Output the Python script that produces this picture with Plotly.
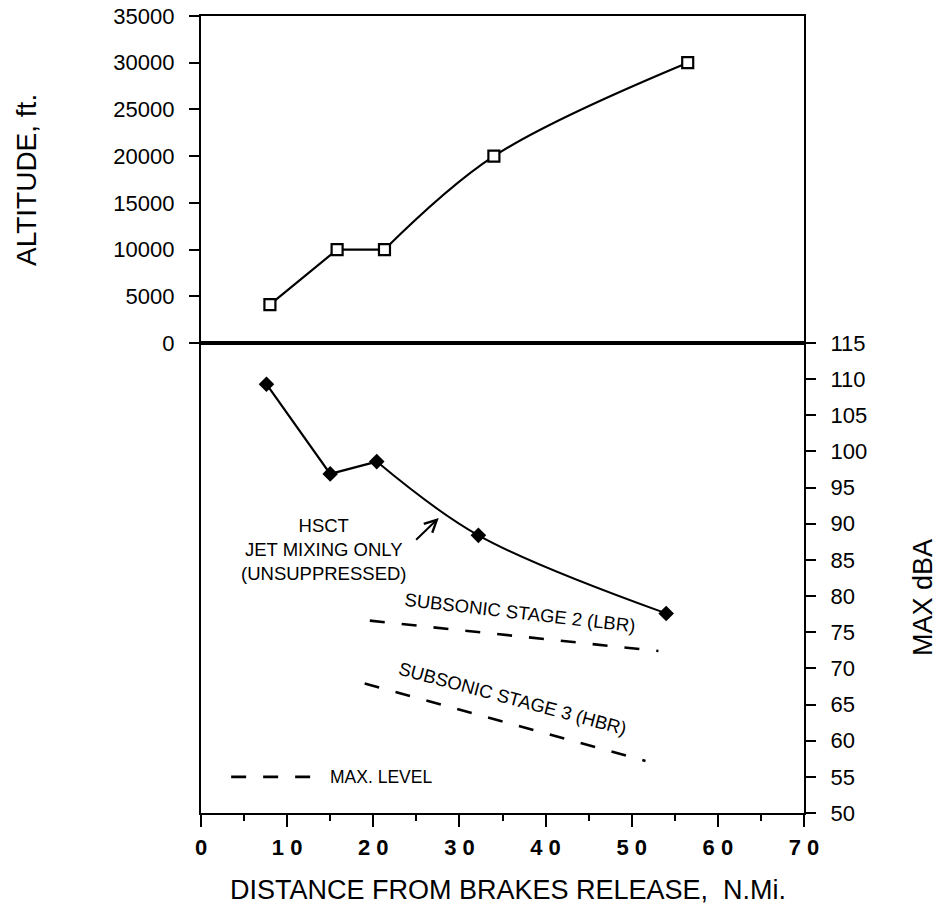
import plotly.graph_objects as go

# ---- data ----
dist_alt = [8.0, 15.8, 21.3, 34.0, 56.5]
altitude = [4100, 10000, 10000, 20000, 30000]

dist_hsct = [7.6, 15.0, 20.4, 32.2, 54.0]
dba_hsct = [109.3, 96.9, 98.6, 88.4, 77.6]

stage2_x = [19.6, 53.1]
stage2_y = [76.6, 72.4]
stage3_x = [19.0, 51.6]
stage3_y = [67.9, 57.2]

legend_x = [3.5, 13.5]
legend_y = [55.0, 55.0]

alt_ticks = [0, 5000, 10000, 15000, 20000, 25000, 30000, 35000]
dba_ticks = list(range(50, 116, 5))
dist_ticks = [0, 10, 20, 30, 40, 50, 60, 70]
dist_labels = ["0", "1 0", "2 0", "3 0", "4 0", "5 0", "6 0", "7 0"]

FONT = "Liberation Sans, Arial, sans-serif"
BLACK = "black"
DASH = "15px,17px"

# plot box sits at x 201..804, y 16..813 in the picture (page body margin removed)
OFF = 0
PL, PR, PT, PB = 201, 804, 16, 813
W, H = 939, 917

fig = go.Figure()

# top panel: altitude
fig.add_trace(go.Scatter(x=dist_alt[:3], y=altitude[:3], mode="lines",
                         line=dict(color=BLACK, width=2.2), xaxis="x", yaxis="y",
                         showlegend=False, hoverinfo="skip"))
fig.add_trace(go.Scatter(x=dist_alt[2:], y=altitude[2:], mode="lines",
                         line=dict(color=BLACK, width=2.2, shape="spline", smoothing=1.0),
                         xaxis="x", yaxis="y", showlegend=False, hoverinfo="skip"))
fig.add_trace(go.Scatter(x=dist_alt, y=altitude, mode="markers",
                         marker=dict(symbol="square", size=11, color="white",
                                     line=dict(color=BLACK, width=2.2)),
                         xaxis="x", yaxis="y", showlegend=False))

# bottom panel: noise
fig.add_trace(go.Scatter(x=dist_hsct[:3], y=dba_hsct[:3], mode="lines",
                         line=dict(color=BLACK, width=2.2), xaxis="x2", yaxis="y2",
                         showlegend=False, hoverinfo="skip"))
fig.add_trace(go.Scatter(x=dist_hsct[2:], y=dba_hsct[2:], mode="lines",
                         line=dict(color=BLACK, width=2.0, shape="spline", smoothing=1.0),
                         xaxis="x2", yaxis="y2", showlegend=False, hoverinfo="skip"))
fig.add_trace(go.Scatter(x=dist_hsct, y=dba_hsct, mode="markers",
                         marker=dict(symbol="diamond", size=12, color=BLACK),
                         xaxis="x2", yaxis="y2", showlegend=False))

for xs, ys in [(stage2_x, stage2_y), (stage3_x, stage3_y), (legend_x, legend_y)]:
    fig.add_trace(go.Scatter(x=xs, y=ys, mode="lines",
                             line=dict(color=BLACK, width=2.6, dash=DASH),
                             xaxis="x2", yaxis="y2", showlegend=False, hoverinfo="skip"))

split = (PB - 343) / (PB - PT)

axis_common = dict(showgrid=False, zeroline=False, showline=True, linecolor=BLACK,
                   linewidth=2.2, tickcolor=BLACK, tickwidth=2.2, automargin=False,
                   ticklabeloverflow="allow",
                   tickfont=dict(family=FONT, size=22, color=BLACK))

fig.update_layout(
    width=W, height=H,
    margin=dict(l=PL - OFF, r=W + OFF - PR, t=PT - OFF, b=H + OFF - PB, autoexpand=False),
    paper_bgcolor="white", plot_bgcolor="white",
    font=dict(family=FONT, color=BLACK),
    xaxis=dict(axis_common, domain=[0, 1], range=[0, 70], anchor="y",
               showticklabels=False, ticks="", mirror=True),
    yaxis=dict(axis_common, domain=[split, 1], range=[0, 35000], anchor="x",
               tickvals=alt_ticks, tickformat="d", ticks="outside", ticklen=10,
               ticklabelstandoff=10, mirror=True),
    xaxis2=dict(axis_common, domain=[0, 1], range=[0, 70], anchor="y2",
                tickvals=dist_ticks, ticktext=dist_labels, ticks="outside", ticklen=12,
                tickfont=dict(family=FONT, size=22, color=BLACK, weight="bold"),
                ticklabelstandoff=1, mirror=True,
                minor=dict(dtick=5, tick0=0, ticks="outside", ticklen=6,
                           tickcolor=BLACK, tickwidth=2, showgrid=False)),
    yaxis2=dict(axis_common, domain=[0, split], range=[50, 115], anchor="x2",
                side="right", tickvals=dba_ticks, ticks="outside", ticklen=10,
                ticklabelstandoff=10, mirror=True),
)

ann_font = dict(family=FONT, size=18.5, color=BLACK)
title_font = dict(family=FONT, size=27, color=BLACK)


def px_x(p):
    return (p - PL) / (PR - PL)


def px_y(p):
    return (PB - p) / (PB - PT)


fig.add_annotation(text="HSCT<br>JET MIXING ONLY<br>(UNSUPPRESSED)", x=14.3, y=86.4,
                   xref="x2", yref="y2", showarrow=False, font=ann_font, align="center",
                   xanchor="center", yanchor="middle")
fig.add_annotation(text="", x=27.6, y=90.8, ax=24.8, ay=87.6, xref="x2", yref="y2",
                   axref="x2", ayref="y2", showarrow=True, arrowhead=5, arrowsize=1.2,
                   arrowwidth=2, arrowcolor=BLACK)
fig.add_annotation(text="SUBSONIC STAGE 2 (LBR)", x=37.0, y=77.7, xref="x2", yref="y2",
                   showarrow=False, font=ann_font, textangle=6.5,
                   xanchor="center", yanchor="middle")
fig.add_annotation(text="SUBSONIC STAGE 3 (HBR)", x=36.2, y=65.8, xref="x2", yref="y2",
                   showarrow=False, font=ann_font, textangle=15,
                   xanchor="center", yanchor="middle")
fig.add_annotation(text="MAX. LEVEL", x=14.7, y=55.0, xref="x2", yref="y2",
                   xanchor="left", yanchor="middle", showarrow=False,
                   font=dict(ann_font, size=17.5))

# axis titles
fig.add_annotation(text="ALTITUDE, ft.", x=px_x(26), y=px_y(180),
                   xref="paper", yref="paper", showarrow=False, textangle=-90,
                   xanchor="center", yanchor="middle", font=dict(title_font, size=28))
fig.add_annotation(text="MAX dBA", x=px_x(923), y=px_y(598),
                   xref="paper", yref="paper", showarrow=False, textangle=-90,
                   xanchor="center", yanchor="middle", font=title_font)
fig.add_annotation(text="DISTANCE FROM BRAKES RELEASE,  N.Mi.", x=px_x(508),
                   y=px_y(890), xref="paper", yref="paper", showarrow=False,
                   xanchor="center", yanchor="middle", font=title_font)

fig.write_html("out.html", config={"displayModeBar": False},
               post_script="document.body.style.margin='0';document.body.style.overflow='hidden';")
